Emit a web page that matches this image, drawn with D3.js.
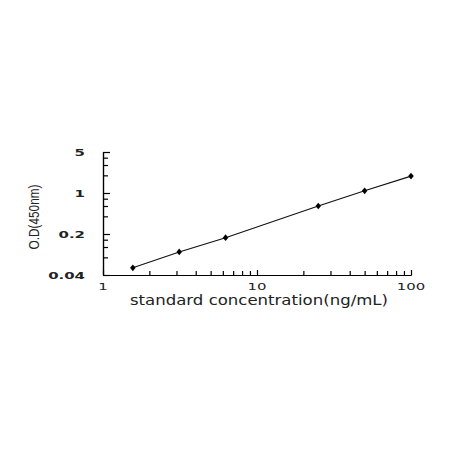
<!DOCTYPE html>
<html>
<head>
<meta charset="utf-8">
<script src="https://cdn.jsdelivr.net/npm/d3@7"></script>
<style>
  body { margin: 0; background: #fff; }
  svg { display: block; }
</style>
</head>
<body>
<script>
// standard curve values
var concentration = [1.5625, 3.125, 6.25, 25, 50, 100];
var odValue = [0.053, 0.099, 0.173, 0.60, 1.09, 1.94];

// tick labels and tick positions
var xMajor = [1, 10, 100];
var xMinor = [2, 3, 4, 5, 6, 7, 8, 9, 20, 30, 40, 50, 60, 70, 80, 90];
var yMajor = [0.04, 0.2, 1, 5];
var yMinor = [0.08, 0.12, 0.16, 0.4, 0.6, 0.8, 2, 3, 4];

var svgWidth = 450;
var svgHeight = 450;

var svg = d3.select("body")
            .append("svg")
            .attr("width", svgWidth)
            .attr("height", svgHeight);

svg.append("rect")
   .attr("width", svgWidth)
   .attr("height", svgHeight)
   .attr("fill", "#fff");

// Scales (both logarithmic)
var x = d3.scaleLog()
          .domain([1, 100])
          .range([103, 411]);

var y = d3.scaleLog()
          .domain([0.04, 5])
          .range([275, 152]);

var tickFont = "'DejaVu Sans', Verdana, sans-serif";

// X axis: minor and major ticks point up into the plot
svg.append("g")
   .attr("transform", "translate(0," + y(0.04) + ")")
   .call(d3.axisBottom(x).tickValues(xMinor).tickSize(-4).tickSizeOuter(0).tickFormat(""));

svg.append("g")
   .attr("transform", "translate(0," + y(0.04) + ")")
   .call(d3.axisBottom(x).tickValues(xMajor).tickSize(-5).tickSizeOuter(0).tickFormat(""));

// Y axis: ticks point right into the plot
svg.append("g")
   .attr("transform", "translate(" + x(1) + ",0)")
   .call(d3.axisLeft(y).tickValues(yMinor).tickSize(-5).tickSizeOuter(0).tickFormat(""));

svg.append("g")
   .attr("transform", "translate(" + x(1) + ",0)")
   .call(d3.axisLeft(y).tickValues(yMajor).tickSize(-7).tickSizeOuter(0).tickFormat(""));

svg.selectAll(".domain, .tick line")
   .attr("stroke", "#000")
   .attr("stroke-width", 1.2);

// tick labels - the source picture has squat, wide digits
svg.selectAll(".ylab")
   .data(yMajor)
   .enter()
   .append("text")
   .attr("class", "ylab")
   .attr("transform", function(d) { return "translate(85," + (y(d) + 3.5) + ") scale(1.15,0.62)"; })
   .attr("text-anchor", "end")
   .style("font-family", tickFont)
   .style("font-size", "13px")
   .style("font-weight", "bold")
   .style("fill", "#222")
   .text(function(d) { return d; });

svg.selectAll(".xlab")
   .data(xMajor)
   .enter()
   .append("text")
   .attr("class", "xlab")
   .attr("transform", function(d) { return "translate(" + x(d) + ",290) scale(1.15,0.62)"; })
   .attr("text-anchor", "middle")
   .style("font-family", tickFont)
   .style("font-size", "13px")
   .style("fill", "#222")
   .text(function(d) { return d; });

// standard curve
var line = d3.line()
             .x(function(d) { return x(d[0]); })
             .y(function(d) { return y(d[1]); });

var points = concentration.map(function(c, i) { return [c, odValue[i]]; });

svg.append("path")
   .datum(points)
   .attr("d", line)
   .attr("fill", "none")
   .attr("stroke", "#111")
   .attr("stroke-width", 1.1);

svg.selectAll(".pt")
   .data(points)
   .enter()
   .append("path")
   .attr("class", "pt")
   .attr("d", d3.symbol().type(d3.symbolDiamond).size(16))
   .attr("transform", function(d) { return "translate(" + x(d[0]) + "," + y(d[1]) + ") scale(1.3,0.9)"; })
   .attr("fill", "#000");

// axis titles
svg.append("text")
   .attr("x", 259)
   .attr("y", 305)
   .attr("text-anchor", "middle")
   .attr("textLength", 258)
   .attr("lengthAdjust", "spacingAndGlyphs")
   .style("font-family", tickFont)
   .style("font-size", "13.5px")
   .style("fill", "#222")
   .text("standard concentration(ng/mL)");

svg.append("text")
   .attr("transform", "translate(39,217) rotate(-90)")
   .attr("text-anchor", "middle")
   .attr("textLength", 65)
   .attr("lengthAdjust", "spacingAndGlyphs")
   .style("font-family", "'Liberation Sans Narrow', 'Arial Narrow', sans-serif")
   .style("font-size", "15px")
   .style("fill", "#222")
   .text("O.D(450nm)");
</script>
</body>
</html>
